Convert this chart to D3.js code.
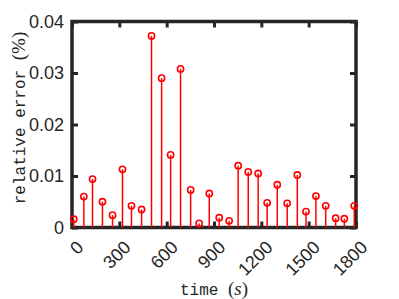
<!DOCTYPE html>
<html lang="en">
<head>
    <meta charset="UTF-8">
    <script src="https://d3js.org/d3.v7.min.js"></script>
    <style>
        body { margin: 0; background: #fff; }
        .tick text { font-family: "Liberation Sans", Arial, sans-serif; font-size: 18px; fill: #262626; }
    </style>
</head>
<body>
    <script>
        var width = 399,
            height = 299;

        // sample times (s) and relative error (%)
        var times = [11, 75, 130, 193, 257, 320, 377, 441, 504, 568, 625, 688, 752, 806, 870,
                     933, 996, 1053, 1117, 1180, 1237, 1301, 1364, 1428, 1483, 1546, 1608, 1671, 1726, 1789];
        var errors = [0.0016, 0.0060, 0.0094, 0.0050, 0.0024, 0.0113, 0.0042, 0.0035, 0.0372, 0.0290,
                      0.0141, 0.0308, 0.0073, 0.0008, 0.0066, 0.0019, 0.0013, 0.0120, 0.0108, 0.0105,
                      0.0048, 0.0083, 0.0047, 0.0102, 0.0031, 0.0061, 0.0042, 0.0018, 0.0017, 0.0042];
        var xTicks = [0, 300, 600, 900, 1200, 1500, 1800];
        var yTicks = [0, 0.01, 0.02, 0.03, 0.04];
        var yTickLabels = ["0", "0.01", "0.02", "0.03", "0.04"];

        // plot box edges (window.top is reserved, so prefix them)
        var boxL = 72, boxR = 356, boxT = 21.5, boxB = 227.5;
        var axisColor = "#262626";

        var svg = d3.select("body").append("svg")
            .attr("width", width)
            .attr("height", height);

        var x = d3.scaleLinear().domain([0, 1800]).range([boxL, boxR]);
        var y = d3.scaleLinear().domain([0, 0.04]).range([boxB, boxT]);

        // bottom axis, ticks pointing inward
        var gx = svg.append("g")
            .attr("transform", "translate(0," + boxB + ")")
            .call(d3.axisBottom(x).tickValues(xTicks).tickFormat(d3.format("d"))
                .tickSizeInner(-6).tickSizeOuter(0).tickPadding(0));
        gx.selectAll(".tick text")
            .attr("text-anchor", "end")
            .attr("dy", null)
            .attr("y", null)
            .attr("transform", "translate(12,21) rotate(-45)");

        var gy = svg.append("g")
            .attr("transform", "translate(" + boxL + ",0)")
            .call(d3.axisLeft(y).tickValues(yTicks).tickFormat(function (d, i) { return yTickLabels[i]; })
                .tickSizeInner(-6).tickSizeOuter(0).tickPadding(8));

        // top and right ticks (box on)
        svg.append("g")
            .attr("transform", "translate(0," + boxT + ")")
            .call(d3.axisTop(x).tickValues(xTicks).tickFormat("").tickSizeInner(-6).tickSizeOuter(0));
        svg.append("g")
            .attr("transform", "translate(" + boxR + ",0)")
            .call(d3.axisRight(y).tickValues(yTicks).tickFormat("").tickSizeInner(-6).tickSizeOuter(0));

        svg.selectAll(".domain").remove();
        svg.selectAll(".tick line").attr("stroke", axisColor).attr("stroke-width", 3);

        // axes box
        svg.append("rect")
            .attr("x", boxL).attr("y", boxT)
            .attr("width", boxR - boxL).attr("height", boxB - boxT)
            .attr("fill", "none")
            .attr("stroke", axisColor)
            .attr("stroke-width", 3.5);

        // stems
        svg.append("g").selectAll("line")
            .data(times)
            .enter().append("line")
            .attr("x1", function (d) { return x(d); })
            .attr("x2", function (d) { return x(d); })
            .attr("y1", y(0))
            .attr("y2", function (d, i) { return y(errors[i]); })
            .attr("stroke", "#ff0000")
            .attr("stroke-width", 1.5);

        // markers
        svg.append("g").selectAll("circle")
            .data(times)
            .enter().append("circle")
            .attr("cx", function (d) { return x(d); })
            .attr("cy", function (d, i) { return y(errors[i]); })
            .attr("r", 3.1)
            .attr("fill", "none")
            .attr("stroke", "#ff0000")
            .attr("stroke-width", 1.6);

        // axis labels
        var xl = svg.append("text")
            .attr("text-anchor", "middle")
            .attr("x", (boxL + boxR) / 2)
            .attr("y", 295)
            .attr("fill", axisColor);
        xl.append("tspan").attr("font-family", "Liberation Mono, monospace").attr("font-size", 16).text("time ");
        xl.append("tspan").attr("font-family", "Liberation Serif, serif").attr("font-size", 19).text("(");
        xl.append("tspan").attr("font-family", "Liberation Serif, serif").attr("font-size", 19).attr("font-style", "italic").text("s");
        xl.append("tspan").attr("font-family", "Liberation Serif, serif").attr("font-size", 19).text(")");

        var yl = svg.append("text")
            .attr("text-anchor", "middle")
            .attr("transform", "translate(25,118) rotate(-90)")
            .attr("fill", axisColor);
        yl.append("tspan").attr("font-family", "Liberation Mono, monospace").attr("font-size", 16).text("relative error ");
        yl.append("tspan").attr("font-family", "Liberation Serif, serif").attr("font-size", 19).text("(%)");
    </script>
</body>
</html>
